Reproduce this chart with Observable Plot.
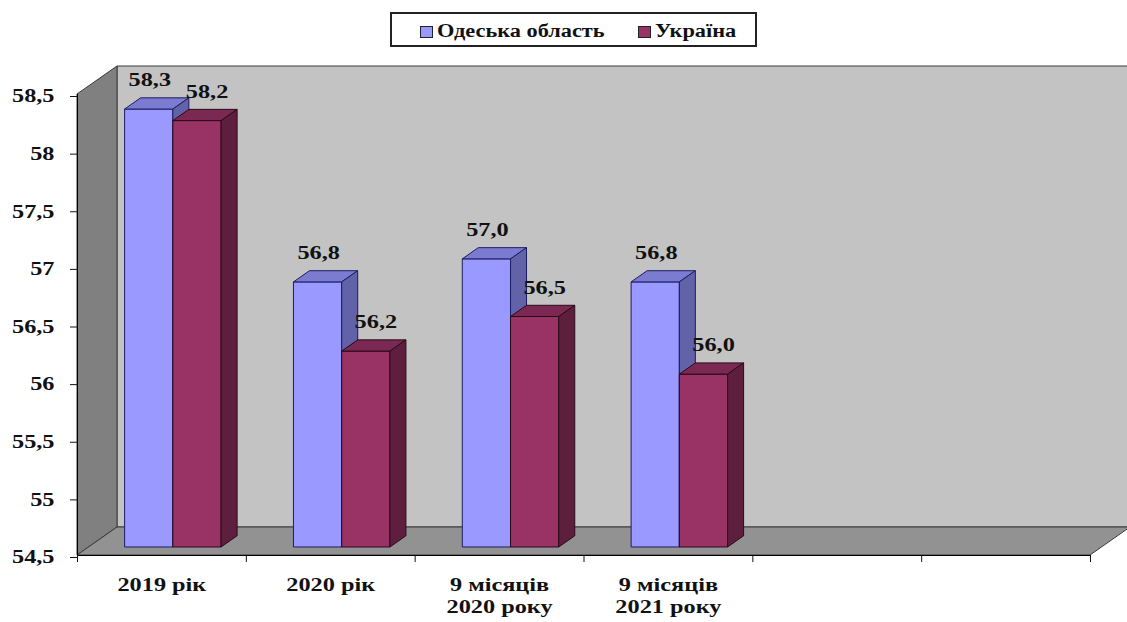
<!DOCTYPE html>
<html>
<head>
<meta charset="utf-8">
<script src="https://cdn.jsdelivr.net/npm/d3@7"></script>
<script src="https://cdn.jsdelivr.net/npm/@observablehq/plot@0.6"></script>
<style>
html, body { margin: 0; padding: 0; overflow: hidden; background: #fff; }
#legendRow { position: relative; height: 58px; width: 1127px; }
#legendBox { position: absolute; left: 390px; top: 12px; width: 367px; height: 35px; box-sizing: border-box;
  border: 2px solid #222; background: #fff; font-family: "Liberation Serif", "Times New Roman", serif;
  font-weight: bold; font-size: 18px; color: #111; }
.item { position: absolute; top: 2px; height: 31px; display: flex; align-items: center; white-space: nowrap; }
.sw { width: 13px; height: 12px; border: 1px solid #222; box-sizing: border-box; margin-right: 4px; }
.lab { display: inline-block; transform: scaleX(1.24); transform-origin: left center; }
svg { display: block; }
</style>
</head>
<body>
<div id="legendRow"><div id="legendBox"></div></div>
<script>
// ---- data ----
const categories = ["2019 рік", "2020 рік", "9 місяців\n2020 року", "9 місяців\n2021 року"];
const slotCount = 6; // the category axis keeps 6 slots, the last 2 are empty
const seriesNames = ["Одеська область", "Україна"];
const odesa = [58.3, 56.8, 57.0, 56.8];
const ukraine = [58.2, 56.2, 56.5, 56.0];
const yTicks = [54.5, 55, 55.5, 56, 56.5, 57, 57.5, 58, 58.5];

// ---- style ----
const palette = [
  {front: "#9999ff", top: "#7b7bd2", side: "#6262a8", edge: "#1c1c60", legendPos: 28, labelDx: 12},
  {front: "#993366", top: "#7b2952", side: "#5e1f3f", edge: "#2a0a1a", legendPos: 246, labelDx: 21}
];
const depth = [40, -28];         // pixel offset of the 3D box depth
const barFront = 0.286, barBack = 0.686;
const gapWidth = 1.5;            // Excel gap width 150%
const textScale = 1.35;
const yMin = yTicks[0], yMax = yTicks[yTicks.length - 1];
const w = 1 / (2 + gapWidth);

const table = categories.flatMap((c, i) => [odesa[i], ukraine[i]].map((v, s) => ({
  cat: i, s, value: v,
  x1: i + (gapWidth / 2) * w + s * w,
  x2: i + (gapWidth / 2) * w + (s + 1) * w
})));

// ---- legend ----
const box = document.getElementById("legendBox");
seriesNames.forEach((n, s) => {
  const it = document.createElement("div");
  it.className = "item";
  it.style.left = palette[s].legendPos + "px";
  it.innerHTML = `<span class="sw" style="background:${palette[s].front}"></span><span class="lab">${n}</span>`;
  box.appendChild(it);
});

function poly(g, pts, fill, stroke) {
  g.append("polygon").attr("points", pts.map(p => p.join(",")).join(" "))
    .attr("fill", fill).attr("stroke", stroke).attr("stroke-width", 1).attr("stroke-linejoin", "round");
}

function walls(index, scales) {
  const g = d3.create("svg:g");
  const X = scales.x, Y = scales.y;
  const xl = X(0), xr = X(slotCount), yt = Y(yMax), yb = Y(yMin);
  const [dx, dy] = depth;
  poly(g, [[xl + dx, yt + dy], [xr + dx, yt + dy], [xr + dx, yb + dy], [xl + dx, yb + dy]], "#c3c3c3", "#3a3a3a");
  poly(g, [[xl, yt], [xl + dx, yt + dy], [xl + dx, yb + dy], [xl, yb]], "#808080", "#3a3a3a");
  poly(g, [[xl, yb], [xr, yb], [xr + dx, yb + dy], [xl + dx, yb + dy]], "#929292", "#3a3a3a");
  return g.node();
}

function bars3d(index, scales) {
  const g = d3.create("svg:g");
  const X = scales.x, Y = scales.y;
  const [ddx, ddy] = depth;
  const ox = ddx * barFront, oy = ddy * barFront;
  const bx = ddx * (barBack - barFront), by = ddy * (barBack - barFront);
  const y0 = Y(yMin) + oy;
  for (const d of table) {
    const c = palette[d.s];
    const xa = X(d.x1) + ox, xb = X(d.x2) + ox, yt = Y(d.value) + oy;
    poly(g, [[xa, y0], [xb, y0], [xb, yt], [xa, yt]], c.front, c.edge);
    poly(g, [[xa, yt], [xb, yt], [xb + bx, yt + by], [xa + bx, yt + by]], c.top, c.edge);
    poly(g, [[xb, y0], [xb + bx, y0 + by], [xb + bx, yt + by], [xb, yt]], c.side, c.edge);
  }
  return g.node();
}

const fmt = v => v.toFixed(1).replace(".", ",");
const yFmt = v => String(v).replace(".", ",");

const labelMarks = [0, 1].map(s => Plot.text(table.filter(d => d.s === s), {
  x: d => (d.x1 + d.x2) / 2, y: "value", text: d => fmt(d.value),
  dx: palette[s].labelDx, dy: -37, fill: "#111", fontWeight: "bold", fontSize: 18
}));

const chart = Plot.plot({
  width: 1127,
  height: 564,
  marginLeft: 77,
  marginRight: 37,
  marginTop: 36,
  marginBottom: 67,
  style: {fontFamily: "'Liberation Serif', 'Times New Roman', serif", fontSize: "18px", fontWeight: "bold", color: "#111", background: "#fff"},
  x: {domain: [0, slotCount], label: null},
  y: {domain: [yMin, yMax], label: null},
  marks: [
    walls,
    Plot.ruleX([0], {y1: yMin, y2: yMax, stroke: "#000"}),
    Plot.ruleY([yMin], {x1: 0, x2: slotCount, stroke: "#000"}),
    bars3d,
    ...labelMarks,
    Plot.axisY(yTicks, {tickSize: 7, tickPadding: 16, tickFormat: yFmt, label: null, dy: 2}),
    Plot.axisX(d3.range(0, slotCount + 1), {tickSize: 7, tickFormat: () => "", label: null}),
    Plot.axisX(categories.map((c, i) => i + 0.5), {
      tickSize: 0, tickPadding: 20, lineHeight: 1.22, label: null,
      tickFormat: v => categories[Math.floor(v)]
    })
  ]
});

// the reference chart's lettering is horizontally stretched
chart.querySelectorAll("text").forEach(t => {
  const tr = t.getAttribute("transform") || "";
  t.setAttribute("transform", tr + ` scale(${textScale},1)`);
});
document.body.appendChild(chart);
</script>
</body>
</html>
